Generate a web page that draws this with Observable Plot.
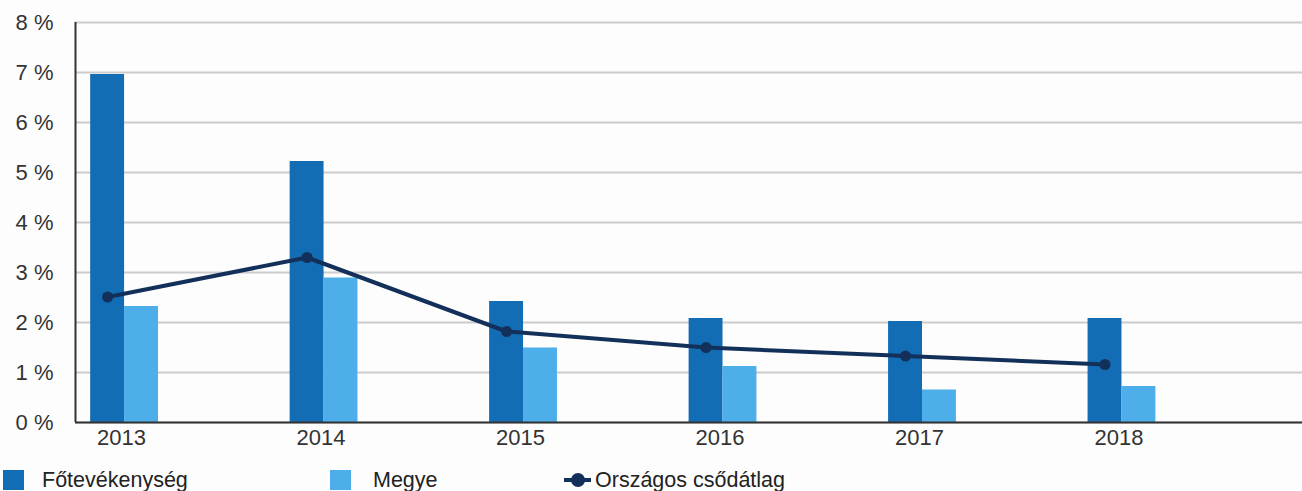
<!DOCTYPE html>
<html>
<head>
<meta charset="utf-8">
<script src="https://cdn.jsdelivr.net/npm/d3@7"></script>
<script src="https://cdn.jsdelivr.net/npm/@observablehq/plot@0.6"></script>
<style>
  html, body { margin: 0; padding: 0; background: #fdfdfd; }
  body { width: 1302px; height: 491px; overflow: hidden; font-family: "Liberation Sans", Arial, sans-serif; }
  #legend { position: relative; height: 36px; font-size: 21.5px; color: #222; }
  .item { position: absolute; top: 7px; height: 36px; display: flex; align-items: center; }
  .sq { width: 21px; height: 20px; display: inline-block; }
</style>
</head>
<body>
<div id="chart"></div>
<div id="legend"></div>
<script>
const years = [2013, 2014, 2015, 2016, 2017, 2018];
const fotevekenyseg = [6.96, 5.22, 2.42, 2.08, 2.02, 2.08];
const megye = [2.32, 2.89, 1.49, 1.12, 0.65, 0.72];
const orszagos = [2.51, 3.30, 1.82, 1.50, 1.33, 1.16];
const yTicks = [0, 1, 2, 3, 4, 5, 6, 7, 8];
const seriesNames = ["Főtevékenység", "Megye", "Országos csődátlag"];
const colors = ["#136db4", "#4daee9", "#13305a"];

const barW = 0.17;
const xDomain = [2012.754, 2018.905];

const dark = years.map((y, i) => ({year: y, value: fotevekenyseg[i]}));
const light = years.map((y, i) => ({year: y, value: megye[i]}));
const line = years.map((y, i) => ({year: y, value: orszagos[i]}));

const chart = Plot.plot({
  width: 1302,
  height: 455,
  marginLeft: 75,
  marginRight: 0,
  marginTop: 22,
  marginBottom: 33,
  style: {fontFamily: "Liberation Sans, Arial, sans-serif", fontSize: "22px", background: "transparent", color: "#333"},
  x: {type: "linear", domain: xDomain},
  y: {domain: [0, 8]},
  marks: [
    Plot.gridY(yTicks, {stroke: "#cccccc", strokeOpacity: 1, strokeWidth: 2}),
    Plot.rect(dark, {x1: d => d.year - barW, x2: d => d.year, y1: 0, y2: "value", fill: colors[0]}),
    Plot.rect(light, {x1: d => d.year, x2: d => d.year + barW, y1: 0, y2: "value", fill: colors[1]}),
    Plot.line(line, {x: d => d.year - barW / 2, y: "value", stroke: colors[2], strokeWidth: 4}),
    Plot.dot(line, {x: d => d.year - barW / 2, y: "value", fill: colors[2], r: 5.5}),
    Plot.ruleY([0], {stroke: "#333", strokeWidth: 2}),
    Plot.ruleX([xDomain[0]], {y1: 0, y2: 8, stroke: "#333", strokeWidth: 2}),
    Plot.axisY(yTicks, {tickSize: 0, tickPadding: 22, tickFormat: d => d + " %", fill: "#333", label: null}),
    Plot.axisX(years, {tickSize: 0, tickPadding: 7, tickFormat: d => String(d), fill: "#333", label: null, dx: -3})
  ]
});
document.getElementById("chart").appendChild(chart);

const legend = document.getElementById("legend");
const positions = [3, 330, 563];
seriesNames.forEach((name, i) => {
  const item = document.createElement("div");
  item.className = "item";
  item.style.left = positions[i] + "px";
  if (i < 2) {
    const sq = document.createElement("span");
    sq.className = "sq";
    sq.style.background = colors[i];
    sq.style.marginRight = i === 0 ? "18px" : "22px";
    item.appendChild(sq);
  } else {
    const svg = document.createElementNS("http://www.w3.org/2000/svg", "svg");
    svg.setAttribute("width", 30);
    svg.setAttribute("height", 20);
    svg.innerHTML = `<line x1="1" x2="28" y1="10" y2="10" stroke="${colors[2]}" stroke-width="4"/><circle cx="15" cy="10" r="7" fill="${colors[2]}"/>`;
    svg.style.marginRight = "2px";
    item.appendChild(svg);
  }
  const t = document.createElement("span");
  t.textContent = name;
  item.appendChild(t);
  legend.appendChild(item);
});
</script>
</body>
</html>
